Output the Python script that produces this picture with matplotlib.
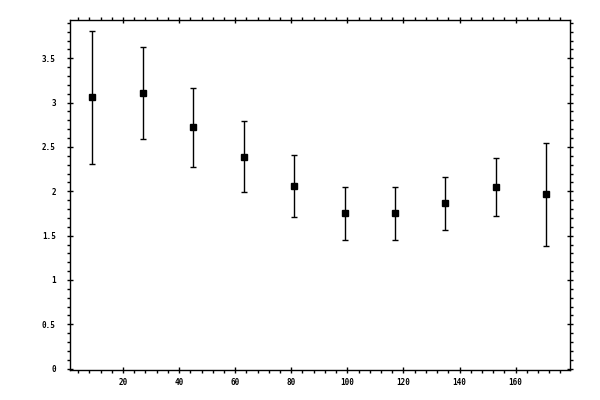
import matplotlib
matplotlib.use("Agg")
import matplotlib.pyplot as plt
from matplotlib.ticker import MultipleLocator, FuncFormatter

x_values = [9, 27, 45, 63, 81, 99, 117, 135, 153, 171]
y_values = [3.06, 3.105, 2.72, 2.39, 2.058, 1.754, 1.754, 1.866, 2.047, 1.968]
y_errors = [0.75, 0.52, 0.45, 0.40, 0.35, 0.30, 0.30, 0.30, 0.33, 0.58]

fig = plt.figure(figsize=(6, 4), dpi=100)
ax = fig.add_axes([0.1162, 0.075, 0.95 - 0.1162, 0.9508 - 0.075])

ax.errorbar(x_values, y_values, yerr=y_errors, fmt='s', color='black',
            ecolor='black', markersize=5, elinewidth=1.0, capsize=2.2,
            capthick=1.0)

ax.set_xlim(1, 179.4)
ax.set_ylim(-0.015, 3.935)

ax.xaxis.set_major_locator(MultipleLocator(20))
ax.xaxis.set_minor_locator(MultipleLocator(4))
ax.yaxis.set_major_locator(MultipleLocator(0.5))
ax.yaxis.set_minor_locator(MultipleLocator(0.1))
ax.yaxis.set_major_formatter(FuncFormatter(lambda v, p: '%g' % v))
ax.xaxis.set_major_formatter(FuncFormatter(lambda v, p: '%g' % v))

ax.tick_params(which='both', top=True, right=True, labeltop=False, labelright=False,
               width=1.0, color='black')
ax.tick_params(which='major', direction='inout', length=5)
ax.tick_params(which='minor', direction='out', length=2.3)
ax.tick_params(axis='y', which='major', pad=7.5)
ax.tick_params(axis='x', which='major', pad=3.5)

for lab in ax.get_xticklabels() + ax.get_yticklabels():
    lab.set_fontfamily('DejaVu Sans Mono')
    lab.set_fontsize(5.5)
    lab.set_fontweight('bold')

for s in ax.spines.values():
    s.set_linewidth(1.0)

fig.savefig('out.png', dpi=100)
